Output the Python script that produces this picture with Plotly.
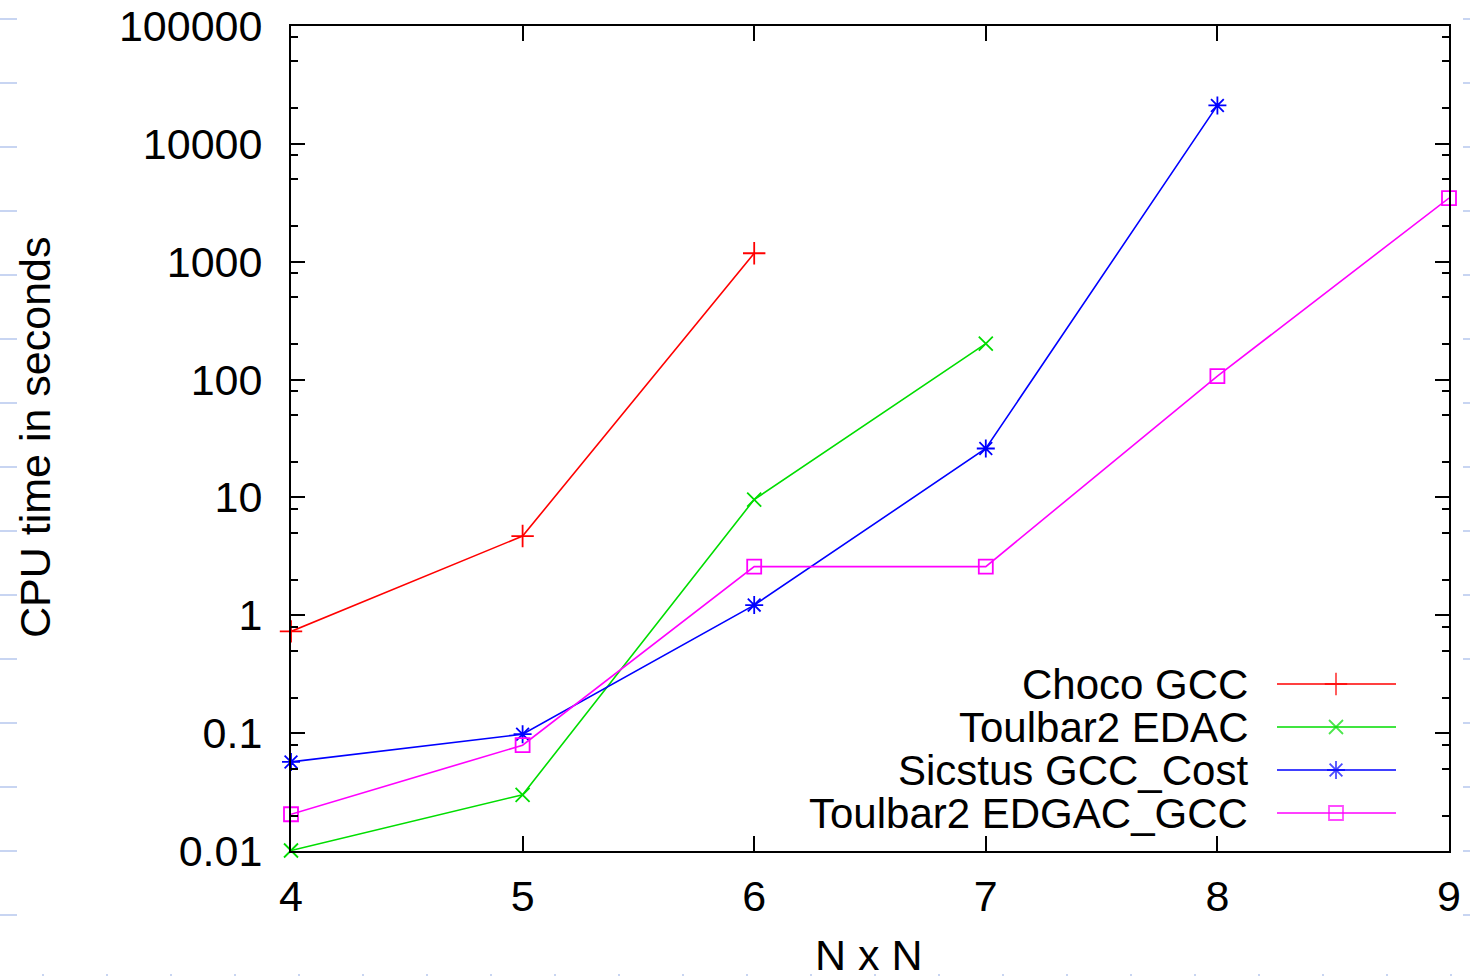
import plotly.graph_objects as go

# ---- data ----
x_choco = [4, 5, 6]
y_choco = [0.73, 4.7, 1180]
x_edac = [4, 5, 6, 7]
y_edac = [0.0101, 0.030, 9.6, 202]
x_sicstus = [4, 5, 6, 7, 8]
y_sicstus = [0.057, 0.098, 1.22, 26, 21200]
x_edgac = [4, 5, 6, 7, 8, 9]
y_edgac = [0.0205, 0.079, 2.59, 2.59, 107, 3470]

series_names = ["Choco GCC", "Toulbar2 EDAC", "Sicstus GCC_Cost", "Toulbar2 EDGAC_GCC"]
x_ticks = [4, 5, 6, 7, 8, 9]
y_ticks = [0.01, 0.1, 1, 10, 100, 1000, 10000, 100000]
y_ticktext = ["0.01", "0.1", "1", "10", "100", "1000", "10000", "100000"]
minor_mult = [2, 5, 8]

W, H = 1470, 977
L, R, T, B = 291, 21, 26, 126
PW, PH = W - L - R, H - T - B
FONT = "Liberation Sans, Arial, Helvetica, sans-serif"
FS = 43


def px2paper_x(px):
    return (px - L) / PW


def px2paper_y(py):
    return (H - B - py) / PH


colors = ["#ff0000", "#00dd00", "#0000ff", "#ff00ff"]
symbols = ["cross-thin-open", "x-thin-open", "asterisk-open", "square-open"]
sizes = [16, 14, 15, 14]
xs = [x_choco, x_edac, x_sicstus, x_edgac]
ys = [y_choco, y_edac, y_sicstus, y_edgac]

fig = go.Figure()
for name, xv, yv, c, s, sz in zip(series_names, xs, ys, colors, symbols, sizes):
    fig.add_trace(go.Scatter(
        x=xv, y=yv, name=name, mode="lines+markers",
        line=dict(color=c, width=1.6),
        marker=dict(symbol=s, size=sz, color=c, line=dict(color=c, width=1.8)),
        cliponaxis=False, showlegend=False,
    ))

# ---- custom gnuplot-style legend (text left, sample right) ----
leg_y = [684, 727, 770, 813]
for name, c, s, sz, py in zip(series_names, colors, symbols, sizes, leg_y):
    fig.add_annotation(
        text=name, xref="paper", yref="paper",
        x=px2paper_x(1250), y=px2paper_y(py), xanchor="right", yanchor="middle",
        showarrow=False, font=dict(family=FONT, size=FS - 1, color="black"),
    )
    fig.add_trace(go.Scatter(
        x=[px2paper_x(1277), px2paper_x(1336), px2paper_x(1396)],
        y=[px2paper_y(py)] * 3,
        xaxis="x2", yaxis="y2", mode="lines+markers",
        line=dict(color=c, width=1.6),
        marker=dict(symbol=s, size=[0, sz, 0], color=c, line=dict(color=c, width=1.8)),
        showlegend=False, hoverinfo="skip", cliponaxis=False,
    ))

# ---- axis titles ----
fig.add_annotation(
    text="N x N", xref="paper", yref="paper",
    x=px2paper_x(869), y=px2paper_y(955), xanchor="center", yanchor="middle",
    showarrow=False, font=dict(family=FONT, size=FS, color="black"),
)
fig.add_annotation(
    text="CPU time in seconds", xref="paper", yref="paper", textangle=-90,
    x=px2paper_x(35), y=px2paper_y(437), xanchor="center", yanchor="middle",
    showarrow=False, font=dict(family=FONT, size=FS, color="black"),
)

# ---- faint slide-template dashes (decoration) ----
deco = "#c8d5f2"
shapes = []
for i in range(15):
    py = 19 + 64 * i
    shapes.append(dict(type="line", xref="paper", yref="paper",
                       x0=px2paper_x(0), x1=px2paper_x(17), y0=px2paper_y(py), y1=px2paper_y(py),
                       line=dict(color=deco, width=2), layer="below"))
    shapes.append(dict(type="line", xref="paper", yref="paper",
                       x0=px2paper_x(1463), x1=px2paper_x(1470), y0=px2paper_y(py), y1=px2paper_y(py),
                       line=dict(color=deco, width=2), layer="below"))
for i in range(23):
    px = 42 + 64 * i
    shapes.append(dict(type="line", xref="paper", yref="paper",
                       x0=px2paper_x(px), x1=px2paper_x(px + 2), y0=px2paper_y(975), y1=px2paper_y(975),
                       line=dict(color=deco, width=2), layer="below"))

minor_vals = [m * 10 ** e for e in range(-2, 5) for m in minor_mult]

fig.update_layout(
    width=W, height=H,
    margin=dict(l=L, r=R, t=T, b=B, pad=0, autoexpand=False),
    paper_bgcolor="white", plot_bgcolor="white",
    font=dict(family=FONT, size=FS, color="black"),
    shapes=shapes,
    xaxis=dict(
        range=[4, 9], tickvals=x_ticks, ticktext=[str(v) for v in x_ticks],
        ticks="inside", ticklen=15, tickwidth=2, tickcolor="black",
        showline=True, linewidth=2, linecolor="black", mirror="ticks",
        showgrid=False, zeroline=False, ticklabelstandoff=6, automargin=False,
        tickfont=dict(family=FONT, size=FS, color="black"),
    ),
    yaxis=dict(
        type="log", range=[-2, 5], tickvals=y_ticks, ticktext=y_ticktext,
        ticks="inside", ticklen=14, tickwidth=2, tickcolor="black",
        showline=True, linewidth=2, linecolor="black", mirror="ticks",
        showgrid=False, zeroline=False, ticklabelstandoff=18, automargin=False,
        tickfont=dict(family=FONT, size=FS, color="black"),
        minor=dict(tickmode="array", tickvals=minor_vals, ticks="inside",
                   ticklen=7, tickwidth=2, tickcolor="black", showgrid=False),
    ),
    xaxis2=dict(overlaying="x", range=[0, 1], visible=False, fixedrange=True, automargin=False),
    yaxis2=dict(overlaying="y", range=[0, 1], visible=False, fixedrange=True, automargin=False),
)

fig.write_html(
    "out.html",
    config={"displayModeBar": False},
    post_script="document.body.style.margin='0';document.body.style.overflow='hidden';",
)
